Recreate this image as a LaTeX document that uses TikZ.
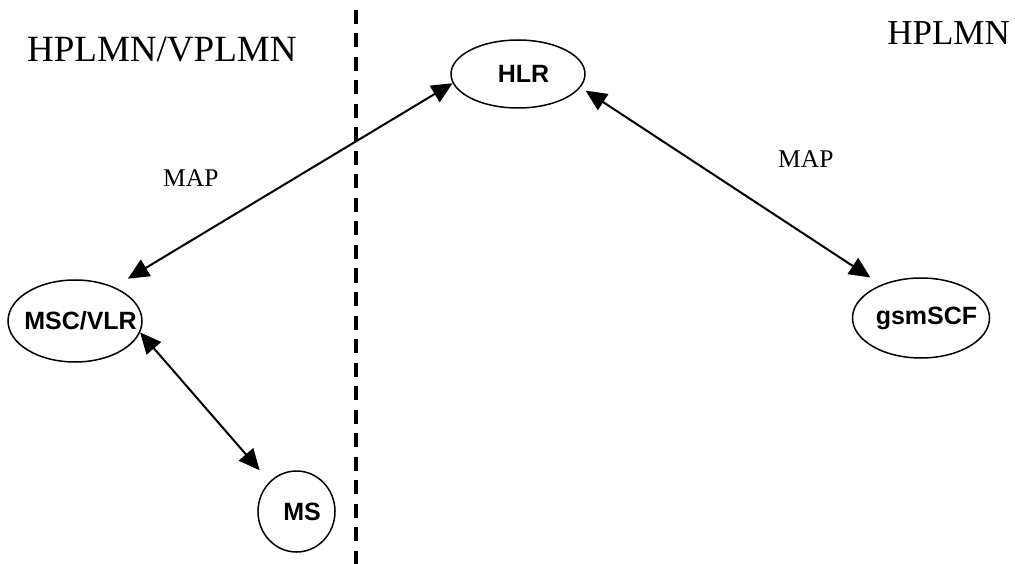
\documentclass[tikz,border=0pt]{standalone}
\usepackage{fontspec}
\setmainfont{Liberation Serif}
\newfontfamily\nefont{Liberation Sans}
\usepackage{xcolor}
\usetikzlibrary{shapes.geometric,arrows.meta}
\definecolor{ink}{HTML}{000000}
\newcommand{\nelabel}[1]{\makebox[0pt]{\hspace{11pt}#1}}
\tikzset{
  ne/.style={ellipse, draw=ink, line width=1.5pt, inner sep=0pt,
             font=\nefont\bfseries\fontsize{25}{30}\selectfont},
  netxt/.style={inner sep=0pt, font=\fontsize{35}{40}\selectfont},
  iftxt/.style={inner sep=0pt, font=\fontsize{25.5}{30}\selectfont},
  ar/.style={{Triangle[length=21pt,width=19pt]}-{Triangle[length=21pt,width=19pt]},
             line width=2pt, color=ink},
  divider/.style={line width=4pt, dash pattern=on 14pt off 9.5pt, color=ink},
}
\begin{document}
\begin{tikzpicture}[x=1pt,y=-1pt]
\useasboundingbox (0,0) rectangle (1015,564);
\node[ne, minimum width=134pt, minimum height=68pt] (hlr) at (518,74) {\nelabel{HLR}};
\node[ne, minimum width=134pt, minimum height=82pt] (msc) at (75,321) {\nelabel{MSC/VLR}};
\node[ne, minimum width=137pt, minimum height=80pt] (scf) at (921,318) {\nelabel{gsmSCF}};
\node[ne, minimum width=77pt, minimum height=81pt] (ms) at (296.5,511.5) {\nelabel{MS}};

\coordinate (divtop) at (356,10);
\coordinate (divbot) at (356,564);
\draw[divider] (divtop) -- (divbot);

\draw[ar, shorten <=16pt] (msc.41) -- (hlr.188);
\draw[ar, shorten <=6pt, shorten >=13pt] (hlr.-12) -- (scf.140);
\draw[ar, shorten >=15pt] (msc.-10) -- (ms.132);

\node[netxt, anchor=base west, font=\fontsize{37}{42}\selectfont] (visited) at (27,62) {HPLMN/VPLMN};
\node[netxt, anchor=base east] (home) at (1010,45) {HPLMN};
\node[iftxt, anchor=base west] (mapl) at (163,187) {MAP};
\node[iftxt, anchor=base west] (mapr) at (778,168) {MAP};
\end{tikzpicture}
\end{document}
